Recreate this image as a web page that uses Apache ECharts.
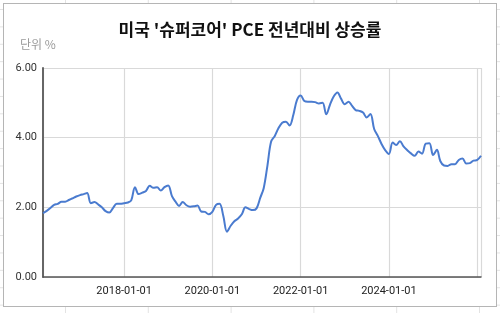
<!DOCTYPE html>
<html>
<head>
<meta charset="utf-8">
<script src="https://cdn.jsdelivr.net/npm/echarts@6/dist/echarts.min.js"></script>
<style>
  html, body { margin: 0; padding: 0; width: 500px; height: 313px; overflow: hidden; }
  body {
    background-color: #fff;
    background-image:
      linear-gradient(to right, #e3e3e3 1px, transparent 1px),
      linear-gradient(to bottom, #e3e3e3 1px, transparent 1px);
    background-size: 82.8px 17.4px;
    background-position: 65px 9px;
    position: relative;
  }
  #card { position: absolute; left: 3px; top: 3px; width: 492px; height: 302px; background: #fff; border: 1px solid #b5b5b5; }
  #chart { position: absolute; left: 0; top: 0; width: 500px; height: 313px; }
</style>
</head>
<body>
<div id="card"></div>
<div id="chart"></div>
<script>
// Data: monthly, starting 2016-03
const startYear = 2016;
const startMonth = 3;
const values = [
  1.83, 1.90, 1.98, 2.07, 2.10, 2.16, 2.16, 2.21, 2.26, 2.31,
  2.35, 2.38, 2.41, 2.12, 2.15, 2.08, 2.00, 1.89, 1.85, 1.98,
  2.10, 2.10, 2.12, 2.14, 2.20, 2.58, 2.38, 2.42, 2.47, 2.62,
  2.56, 2.58, 2.48, 2.58, 2.63, 2.32, 2.17, 2.04, 2.15, 2.06,
  2.02, 2.03, 2.05, 1.88, 1.87, 1.80, 1.87, 2.07, 2.10, 1.75,
  1.30, 1.47, 1.60, 1.68, 1.80, 2.00, 1.95, 1.92, 1.97, 2.28,
  2.55, 3.20, 3.88, 4.05, 4.27, 4.43, 4.46, 4.35, 4.65, 5.08,
  5.21, 5.05, 5.03, 5.03, 5.02, 4.98, 5.00, 4.67, 4.95, 5.18,
  5.30, 5.12, 4.96, 5.03, 4.92, 4.79, 4.77, 4.72, 4.58, 4.68,
  4.25, 4.05, 3.82, 3.64, 3.53, 3.86, 3.79, 3.90, 3.75, 3.64,
  3.55, 3.48, 3.60, 3.54, 3.83, 3.84, 3.50, 3.65, 3.33, 3.20,
  3.19, 3.24, 3.24, 3.36, 3.40, 3.26, 3.27, 3.34, 3.36, 3.48
];
const yTicks = [0, 2, 4, 6];
const titleText = "미국 '슈퍼코어' PCE 전년대비 상승률";
const unitText = "단위 %";

function pad(n) { return (n < 10 ? '0' : '') + n; }
const dates = values.map((v, i) => {
  const t = (startMonth - 1) + i;
  const y = startYear + Math.floor(t / 12);
  const m = (t % 12) + 1;
  return y + '-' + pad(m) + '-01';
});
const seriesData = dates.map((d, i) => [d, values[i]]);

const chart = echarts.init(document.getElementById('chart'), null, { renderer: 'canvas' });
const font = '"Noto Sans CJK KR", Roboto, "Noto Sans", sans-serif';
chart.setOption({
  animation: false,
  backgroundColor: 'transparent',
  title: {
    text: titleText,
    left: 'center',
    top: 16,
    textStyle: { fontFamily: font, fontSize: 17, fontWeight: 'bold', color: '#111' }
  },
  graphic: [{
    type: 'text', left: 20, top: 38,
    style: { text: unitText, fontFamily: font, fontSize: 12, fill: '#9a9a9a' }
  }],
  grid: { left: 43, right: 19, top: 68, bottom: 36, containLabel: false },
  xAxis: {
    type: 'time',
    min: dates[0],
    max: dates[dates.length - 1],
    axisLine: { show: true, lineStyle: { color: '#555', width: 1.5 } },
    axisTick: { show: false },
    splitLine: { show: true, lineStyle: { color: '#d9d9d9', width: 1.2 } },
    axisLabel: {
      color: '#222', fontFamily: 'Roboto, sans-serif', fontSize: 11, margin: 9,
      showMinLabel: false, showMaxLabel: false,
      formatter: function (v) {
        const d = new Date(v);
        if (d.getFullYear() >= 2026) return '';
        return d.getFullYear() + '-' + pad(d.getMonth() + 1) + '-' + pad(d.getDate());
      }
    }
  },
  yAxis: {
    type: 'value',
    min: yTicks[0], max: yTicks[yTicks.length - 1], interval: 2,
    axisLine: { show: true, lineStyle: { color: '#666', width: 2 } },
    axisTick: { show: false },
    splitLine: { show: true, lineStyle: { color: '#d9d9d9', width: 1.2 } },
    axisLabel: {
      color: '#333', fontFamily: 'Roboto, sans-serif', fontSize: 11, margin: 6,
      formatter: v => v.toFixed(2)
    }
  },
  series: [{
    type: 'line',
    data: seriesData,
    smooth: 0.35,
    showSymbol: false,
    lineStyle: { color: '#4a7bcf', width: 2 },
    itemStyle: { color: '#4a7bcf' }
  }]
});
</script>
</body>
</html>
